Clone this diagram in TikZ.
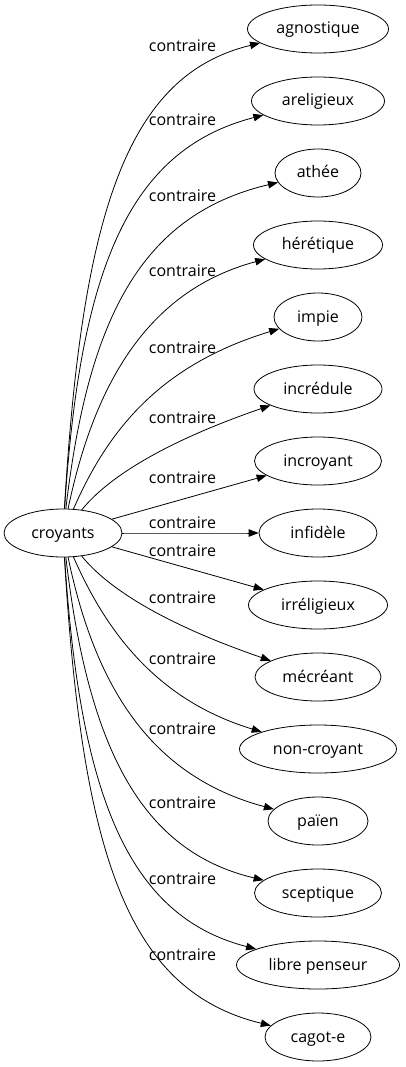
\documentclass[tikz,border=0pt]{standalone}
\usepackage{fontspec}
\setmainfont{Open Sans}
\usetikzlibrary{arrows.meta,shapes.geometric}
\tikzset{
  lemma/.style={draw,ellipse,line width=0.8pt,inner sep=0pt,minimum height=48pt,
    text height=12pt,text depth=2pt,font=\fontsize{16}{19}\selectfont},
  rel/.style={-{Triangle[length=10pt,width=7.5pt]},line width=0.8pt},
  rellab/.style={anchor=base,inner sep=0pt,font=\fontsize{16}{19}\selectfont},
}

\begin{document}
\begin{tikzpicture}[x=1pt,y=-1pt]
  \useasboundingbox (0,0) rectangle (405,1067);
  \node[lemma,minimum width=118pt] (croyants) at (63,533) {croyants};
  % name/text/width/y/control points/label baseline
  \foreach \n/\t/\w/\y/\a/\b/\c/\d/\l [count=\i] in {
      agnostique/agnostique/141/29/82/210/128/75/52,
      areligieux/areligieux/133/101/80/270/128/150/126,
      athee/athée/86/173/88/320/140/215/202,
      heretique/hérétique/129/245/95/380/150/290/276,
      impie/impie/88/317/108/430/160/365/353,
      incredule/incrédule/128/389/110/475/170/440/423,
      incroyant/incroyant/127/461/150/508.4/220/488.7/483,
      infidele/infidèle/118/533/150/533/220/533/528,
      irreligieux/irréligieux/139/605/150/557.6/220/577.3/556,
      mecreant/mécréant/126/677/110/591/170/626/603,
      noncroyant/non-croyant/157/749/108/636/160/701/664,
      paien/païen/100/821/95/686/150/776/734,
      sceptique/sceptique/127/893/88/746/140/851/808,
      librepenseur/libre penseur/163/965/80/796/128/916/884,
      cagote/cagot-e/106/1037/82/856/128/991/960}
  {
    \node[lemma,minimum width=\w pt] (\n) at (318,\y) {\t};
    \draw[rel] (croyants) .. controls (\a,\b) and (\c,\d) .. (\n);
    \node[rellab] (lab\i) at (182.5,\l) {contraire};
  }
\end{tikzpicture}
\end{document}
